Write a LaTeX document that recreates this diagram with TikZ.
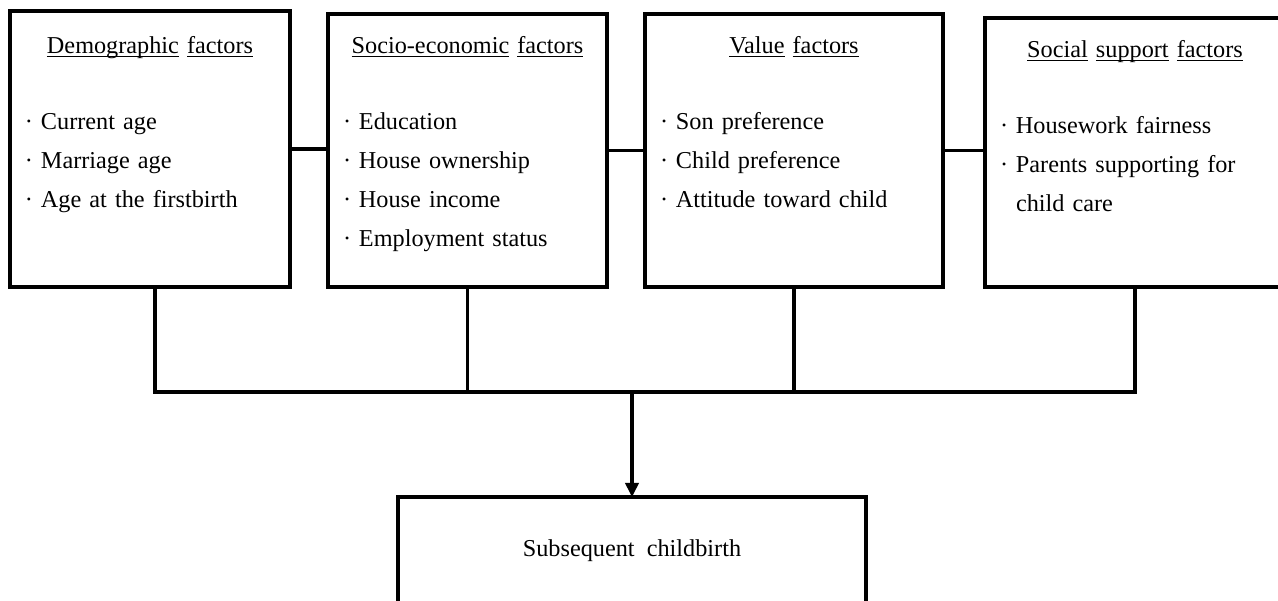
\documentclass[tikz,border=0pt]{standalone}
\usepackage{fontspec}
\setmainfont{Liberation Serif}
\usetikzlibrary{arrows.meta}

\newcommand{\boxfont}{\fontsize{13.8}{22.2}\selectfont\spaceskip=0.5em\relax}
\newcommand{\bul}{\makebox[0.32cm][l]{·}}
\newcommand{\ul}[1]{\underline{\smash{#1}}}

\begin{document}
\begin{tikzpicture}[
    line width=1.9pt,
    font=\boxfont,
    factor/.style = {
      draw,
      shape=rectangle,
      anchor=north west,
      align=left,
      inner xsep=0.3cm,
      inner ysep=0pt,
      outer sep=0pt
    },
    outcome/.style = {
      draw,
      shape=rectangle,
      minimum width=9.36cm,
      minimum height=2.16cm,
      outer sep=0pt
    }
  ]
  \useasboundingbox (0,0) rectangle (25.56,-12.02);

  \node[factor, text width=5.0cm, text height=0.86cm, text depth=4.66cm] (demo) at (0.2,-0.22) {
    \makebox[5.0cm][c]{\ul{Demographic} \ul{factors}}\\[20.8pt]
    \bul Current age\\
    \bul Marriage age\\
    \bul Age at the firstbirth};
  \node[factor, text width=4.98cm, text height=0.8cm, text depth=4.66cm] (socio) at (6.56,-0.28) {
    \makebox[4.98cm][c]{\ul{Socio-economic} \ul{factors}}\\[20.8pt]
    \bul Education\\
    \bul House ownership\\
    \bul House income\\
    \bul Employment status};
  \node[factor, text width=5.36cm, text height=0.8cm, text depth=4.66cm] (value) at (12.9,-0.28) {
    \makebox[5.36cm][c]{\ul{Value} \ul{factors}}\\[20.8pt]
    \bul Son preference\\
    \bul Child preference\\
    \bul Attitude toward child};
  \node[factor, text width=5.4cm, text height=0.8cm, text depth=4.58cm] (social) at (19.7,-0.36) {
    \makebox[5.4cm][c]{\ul{Social} \ul{support} \ul{factors}}\\[20.8pt]
    \bul Housework fairness\\
    \bul Parents supporting for\\
    \hspace*{0.32cm}child care};

  \node[outcome] (birth) at (12.64,-11.02) {Subsequent childbirth};

  \coordinate (bus) at (0,-7.84);

  \draw (demo.east) -- (demo.east -| socio.west);
  \draw (socio.east) -- (socio.east -| value.west);
  \draw (value.east) -- (value.east -| social.west);

  \draw ([xshift=1mm]demo.south) |- (social.south |- bus) -- (social.south);
  \draw (socio.south) -- (socio.south |- bus);
  \draw (value.south) -- (value.south |- bus);
  \draw[-{Triangle[length=8pt,width=7.5pt]}] (birth.north |- bus) -- (birth.north);

\end{tikzpicture}
\end{document}
